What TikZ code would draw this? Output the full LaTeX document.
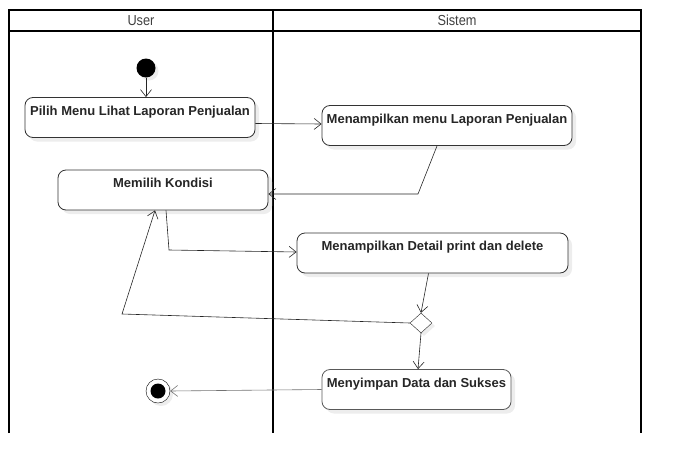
\documentclass[tikz,border=0pt]{standalone}
\usepackage{fontspec}
\setmainfont{Liberation Sans}
\newfontfamily\lanefont[FakeStretch=0.88]{Liberation Sans}
\usetikzlibrary{positioning,arrows.meta,shapes.geometric,shadows}

\begin{document}
\begin{tikzpicture}[x=1pt, y=-1pt,
            >={Straight Barb[length=7pt, width=11pt]},
            lane/.style={line width=1.6pt, draw=black},
            lanetitle/.style={font=\lanefont\fontsize{14.5}{16}\selectfont, text=black!75},
            actnode/.style={rectangle, rounded corners=8pt, draw=black!80, fill=white, thick, inner xsep=2pt, inner ysep=4pt, text height=13.5pt, text depth=18.5pt, minimum height=40pt, font=\bfseries\fontsize{13}{15}\selectfont, text=black!85, drop shadow={shadow xshift=4pt, shadow yshift=-4pt, fill=black!7, opacity=1}},
            startnode/.style={circle, fill=black, minimum size=19pt, inner sep=0pt, drop shadow={shadow xshift=3pt, shadow yshift=-3pt, fill=black!7, opacity=1}},
            endnode/.style={circle, draw=black, fill=white, minimum size=24pt, inner sep=0pt, path picture={\fill[black] (path picture bounding box.center) circle (7.5pt);}, drop shadow={shadow xshift=3pt, shadow yshift=-3pt, fill=black!7, opacity=1}},
            decnode/.style={diamond, draw=black!85, fill=white, minimum width=22pt, minimum height=20pt, inner sep=0pt, drop shadow={shadow xshift=3pt, shadow yshift=-3pt, fill=black!7, opacity=1}},
            flow/.style={->, draw=black!85, semithick},
        ]
        \useasboundingbox (0,0) rectangle (682,474);
        \draw[lane] (9,433) -- (9,10) -- (641,10) -- (641,433);
        \draw[lane] (9,31) -- (641,31);
        \draw[lane, line width=2.6pt] (273,10) -- (273,433);
        \node[lanetitle] (user)    at (141,20.5) {User};
        \node[lanetitle] (sistem)  at (457,20.5) {Sistem};

        \node[startnode]                          (start)   at (146,68)    {};
        \node[actnode, minimum width=230pt]       (pilih)   at (140,117.5) {Pilih Menu Lihat Laporan Penjualan};
        \node[actnode, minimum width=250pt]       (tampil)  at (447,125.5) {Menampilkan menu Laporan Penjualan};
        \node[actnode, minimum width=210pt]       (kondisi) at (163,190)   {Memilih Kondisi};
        \node[actnode, minimum width=271pt]       (detail)  at (432.5,253) {Menampilkan Detail print dan delete};
        \node[decnode]                            (cek)     at (421,323)   {};
        \node[actnode, minimum width=189pt, draw=black!65] (simpan) at (416.5,389.5) {Menyimpan Data dan Sukses};
        \node[endnode]                            (finish)  at (158,391)   {};

        \coordinate (tampilTurn)  at (418,194);
        \coordinate (kondisiTurn) at (169,250);
        \coordinate (cekTurn)     at (122,314);

        \draw[flow] (start) -- (start |- pilih.north);
        \draw[flow] ([yshift=-6pt]pilih.east) -- ([yshift=1.5pt]tampil.west);
        \draw[flow] ([xshift=-10pt]tampil.south) -- (tampilTurn) -- ([yshift=-4pt]kondisi.east);
        \draw[flow] ([xshift=3pt]kondisi.south) -- (kondisiTurn) -- ([yshift=1pt]detail.west);
        \draw[flow] ([xshift=-4pt]detail.south) -- (cek.north);
        \draw[flow] (cek.west) -- (cekTurn) -- ([xshift=-8pt]kondisi.south);
        \draw[flow] (cek.south) -- ([xshift=1.5pt]simpan.north);
        \draw[flow, draw=black!55] (simpan.west) -- (finish.east);
    \end{tikzpicture}
\end{document}
